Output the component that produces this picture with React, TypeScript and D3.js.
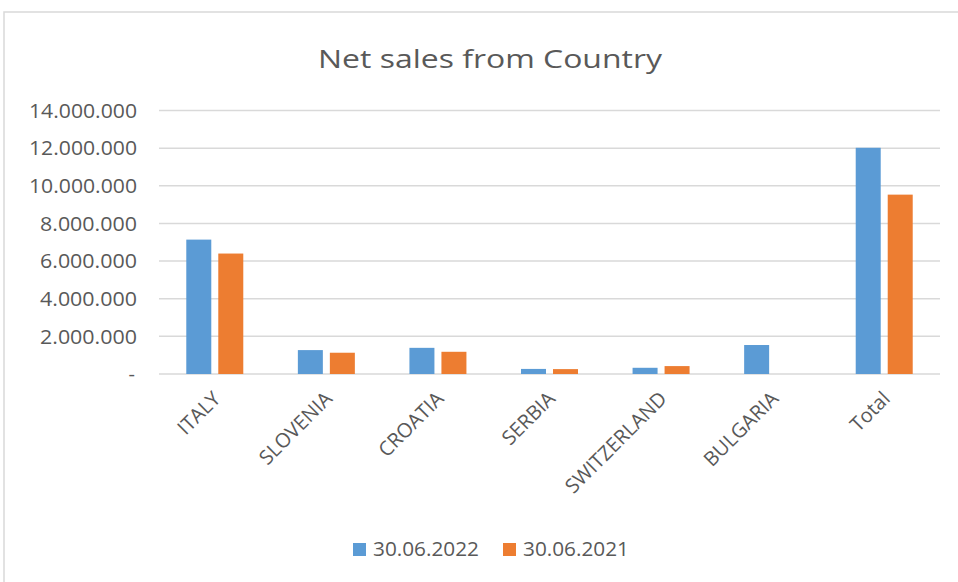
import React from "react";
import * as d3 from "d3";

const categories = ["ITALY", "SLOVENIA", "CROATIA", "SERBIA", "SWITZERLAND", "BULGARIA", "Total"];
const series2022 = [7140000, 1270000, 1390000, 270000, 330000, 1540000, 12020000];
const series2021 = [6400000, 1130000, 1180000, 260000, 420000, 0, 9530000];
const seriesNames = ["30.06.2022", "30.06.2021"];
const seriesColors = ["#5B9BD5", "#ED7D31"];
const yTicks = [0, 2000000, 4000000, 6000000, 8000000, 10000000, 12000000, 14000000];

const W = 958;
const H = 582;
const plot = { left: 159, right: 940, top: 110.5, bottom: 374 };

function fmt(v: number): string {
  if (v === 0) return "-";
  return d3.format(",")(v).replace(/,/g, ".");
}

export default function App() {
  const x = d3.scaleBand<string>().domain(categories).range([plot.left, plot.right]).paddingInner(0).paddingOuter(0);
  const y = d3.scaleLinear().domain([0, 14000000]).range([plot.bottom, plot.top]);
  const barW = 25;
  const gap = 7;
  const textColor = "#595959";
  const font = "'Open Sans', sans-serif";
  const series = [series2022, series2021];

  return (
    <svg width={W} height={H} style={{ position: "absolute", left: 0, top: 0, background: "#fff" }} fontFamily={font}>
      <rect x={4} y={12} width={W + 20} height={H + 20} fill="#fff" stroke="#D9D9D9" strokeWidth={1.5} />
      <text x={490} y={68} textAnchor="middle" fontSize={25} fill={textColor} textLength={344} lengthAdjust="spacingAndGlyphs">
        Net sales from Country
      </text>
      {yTicks.map((t) => (
        <g key={t}>
          <line x1={plot.left} x2={plot.right} y1={y(t)} y2={y(t)} stroke="#D9D9D9" strokeWidth={1.5} />
          <text x={t === 0 ? 135 : 137} y={y(t)} dy="0.36em" textAnchor="end" fontSize={20} fill={textColor}
            textLength={t === 0 ? undefined : (t >= 10000000 ? 108 : 97)} lengthAdjust="spacingAndGlyphs">
            {fmt(t)}
          </text>
        </g>
      ))}
      {categories.map((c, i) => {
        const cx = (x(c) as number) + x.bandwidth() / 2;
        return (
          <g key={c}>
            {series.map((s, k) => {
              const v = s[i];
              if (!v) return null;
              const bx = k === 0 ? cx - gap / 2 - barW : cx + gap / 2;
              return <rect key={k} x={bx} y={y(v)} width={barW} height={y(0) - y(v)} fill={seriesColors[k]} />;
            })}
            <text transform={`translate(${cx + 7},${400}) rotate(-45)`} textAnchor="end" fontSize={20} fill={textColor}>
              {c}
            </text>
          </g>
        );
      })}
      {seriesNames.map((n, k) => {
        const lx = 353 + k * 150;
        return (
          <g key={n}>
            <rect x={lx} y={543} width={13} height={13} fill={seriesColors[k]} />
            <text x={lx + 20} y={556} fontSize={20} fill={textColor} textLength={106} lengthAdjust="spacingAndGlyphs">
              {n}
            </text>
          </g>
        );
      })}
    </svg>
  );
}
